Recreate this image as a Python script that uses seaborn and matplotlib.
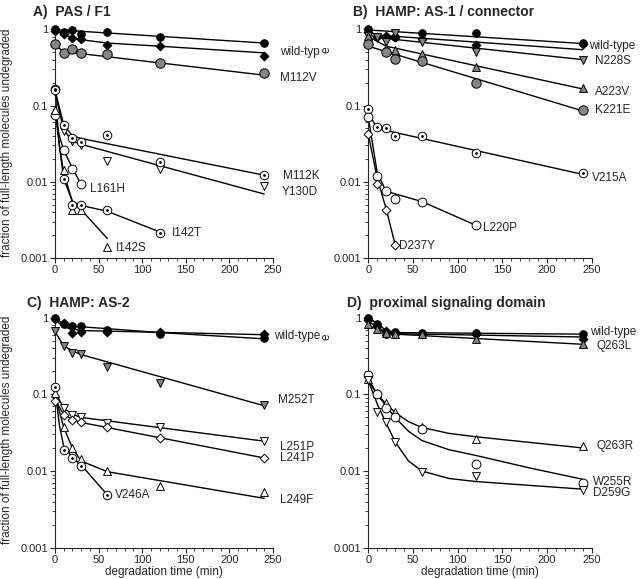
import numpy as np
import pandas as pd
import matplotlib
matplotlib.use("Agg")
import matplotlib.pyplot as plt
from matplotlib.ticker import FixedLocator, MultipleLocator, LogLocator, NullFormatter
import seaborn as sns

nan = np.nan

# sampling times (min)
TIME = [0, 10, 20, 30, 60, 120, 240]

# ---- A) PAS / F1 : measured fractions
A_WT = [1.0, 0.93, 0.98, 0.87, 0.92, 0.80, 0.66]
A_WT2 = [0.96, 0.87, 0.76, 0.74, 0.62, 0.60, 0.45]
A_M112V = [0.64, 0.49, 0.55, 0.49, 0.47, 0.36, 0.265]
A_M112K = [0.164, 0.056, 0.037, 0.033, 0.041, 0.018, 0.0123]
A_Y130D = [0.15, 0.046, 0.034, 0.030, 0.019, 0.0148, 0.0087]
A_L161H = [0.075, 0.026, 0.0147, 0.0093, nan, nan, nan]
A_I142T = [0.16, 0.011, 0.0049, 0.0049, 0.0042, 0.0021, nan]
A_I142S = [0.088, 0.0144, 0.0042, 0.0042, 0.0014, nan, nan]

# ---- B) HAMP: AS-1 / connector
B_WT = [1.0, nan, 0.79, 0.80, 0.89, 0.89, 0.66]
B_WT2 = [0.93, 0.80, 0.82, 0.79, 0.74, 0.62, 0.64]
B_N228S = [0.82, 0.80, 0.69, 0.89, 0.68, 0.50, 0.40]
B_A223V = [0.82, nan, 0.56, 0.54, 0.47, 0.32, 0.168]
B_K221E = [0.64, nan, 0.51, 0.41, 0.38, 0.20, 0.088]
B_V215A = [0.089, 0.053, 0.050, 0.040, 0.040, 0.024, 0.013]
B_L220P = [0.070, 0.012, 0.0075, 0.0060, 0.0055, 0.0027, nan]
B_D237Y = [0.042, 0.0094, 0.0042, 0.0015, nan, nan, nan]

# ---- C) HAMP: AS-2
C_WT = [1.0, 0.82, 0.78, 0.78, 0.70, 0.61, 0.54]
C_WT2 = [0.95, 0.85, 0.64, 0.66, 0.66, 0.66, 0.61]
C_M252T = [0.68, 0.43, 0.35, 0.34, 0.225, 0.14, 0.072]
C_L251P = [0.113, 0.066, 0.054, 0.050, 0.042, 0.037, 0.025]
C_L241P = [0.082, 0.054, 0.046, 0.043, 0.037, 0.027, 0.015]
C_L249F = [0.103, 0.038, 0.020, 0.0143, 0.0099, 0.0064, 0.0053]
C_V246A = [0.126, 0.019, 0.015, 0.0117, 0.0049, nan, nan]

# ---- D) proximal signaling domain
D_WT = [1.0, 0.84, 0.62, 0.66, 0.64, 0.64, 0.61]
D_WT2 = [0.92, 0.78, 0.68, 0.62, 0.62, 0.61, 0.52]
D_Q263L = [0.82, 0.71, 0.64, 0.61, 0.61, 0.53, 0.45]
D_Q263R = [0.158, 0.103, 0.077, 0.058, 0.037, 0.026, 0.021]
D_W255R = [0.18, 0.10, 0.066, 0.050, 0.035, 0.0125, 0.007]
D_D259G = [0.154, 0.058, 0.043, 0.024, 0.0098, 0.0086, 0.0057]

# ---- fitted curves (time list, value list)
A_WT_FIT = ([0, 240], [0.99, 0.66])
A_WT2_FIT = ([0, 10, 20, 30, 60, 120, 240], [0.96, 0.85, 0.78, 0.73, 0.66, 0.60, 0.49])
A_M112V_FIT = ([0, 10, 240], [0.62, 0.51, 0.25])
A_M112K_FIT = ([0, 10, 20, 30, 240], [0.16, 0.056, 0.040, 0.037, 0.0122])
A_Y130D_FIT = ([0, 10, 20, 30, 240], [0.15, 0.048, 0.034, 0.031, 0.0069])
A_L161H_FIT = ([0, 5, 10, 20, 30], [0.075, 0.040, 0.026, 0.015, 0.0093])
A_I142T_FIT = ([0, 5, 10, 20, 30, 60, 120], [0.16, 0.030, 0.011, 0.0055, 0.0049, 0.0041, 0.0022])
A_I142S_FIT = ([0, 5, 10, 20, 30, 60], [0.088, 0.030, 0.013, 0.0055, 0.0043, 0.0018])

B_WT_FIT = ([0, 240], [0.98, 0.65])
B_WT2_FIT = ([0, 10, 240], [0.93, 0.84, 0.54])
B_N228S_FIT = ([0, 10, 240], [0.85, 0.78, 0.40])
B_A223V_FIT = ([0, 20, 240], [0.80, 0.60, 0.165])
B_K221E_FIT = ([0, 240], [0.60, 0.085])
B_V215A_FIT = ([0, 10, 240], [0.08, 0.05, 0.0125])
B_L220P_FIT = ([0, 10, 20, 60, 120], [0.07, 0.013, 0.0075, 0.0055, 0.0027])
B_D237Y_FIT = ([0, 10, 20, 30], [0.042, 0.011, 0.0044, 0.0015])

C_WT_FIT = ([0, 10, 20, 30, 60, 120, 240], [1.0, 0.82, 0.78, 0.76, 0.72, 0.64, 0.53])
C_WT2_FIT = ([0, 10, 30, 240], [0.95, 0.75, 0.68, 0.60])
C_M252T_FIT = ([0, 10, 20, 30, 240], [0.66, 0.43, 0.37, 0.33, 0.071])
C_L251P_FIT = ([0, 10, 20, 30, 240], [0.11, 0.066, 0.055, 0.050, 0.0245])
C_L241P_FIT = ([0, 10, 20, 30, 240], [0.085, 0.055, 0.047, 0.043, 0.0148])
C_L249F_FIT = ([0, 10, 20, 30, 60, 240], [0.10, 0.037, 0.020, 0.0135, 0.0098, 0.0044])
C_V246A_FIT = ([0, 5, 10, 20, 30, 60], [0.12, 0.040, 0.021, 0.015, 0.012, 0.0049])

D_WT_FIT = ([0, 10, 20, 30, 240], [1.0, 0.84, 0.68, 0.64, 0.61])
D_WT2_FIT = ([0, 10, 20, 30, 240], [0.90, 0.75, 0.65, 0.62, 0.56])
D_Q263L_FIT = ([0, 10, 20, 30, 240], [0.80, 0.70, 0.64, 0.61, 0.45])
D_Q263R_FIT = ([0, 10, 20, 30, 45, 60, 90, 120, 240],
               [0.15, 0.10, 0.075, 0.058, 0.044, 0.037, 0.031, 0.028, 0.020])
D_W255R_FIT = ([0, 10, 20, 30, 45, 60, 90, 120, 180, 240],
               [0.16, 0.10, 0.07, 0.05, 0.033, 0.025, 0.019, 0.016, 0.011, 0.0078])
D_D259G_FIT = ([0, 10, 20, 30, 45, 60, 90, 120, 180, 240],
               [0.15, 0.075, 0.042, 0.024, 0.0135, 0.0100, 0.0080, 0.0073, 0.0065, 0.0058])

GRAY = "#858585"
STYLES = {
    "wt": dict(marker="o", s=30, fc="black"),
    "wt2": dict(marker="D", s=20, fc="black"),
    "g_circle": dict(marker="o", s=46, fc=GRAY),
    "g_down": dict(marker="v", s=32, fc=GRAY),
    "g_up": dict(marker="^", s=32, fc=GRAY),
    "dot_circle": dict(marker="o", s=38, fc="white", dot=True),
    "o_down": dict(marker="v", s=32, fc="white"),
    "o_up": dict(marker="^", s=32, fc="white"),
    "o_circle": dict(marker="o", s=40, fc="white"),
    "o_diamond": dict(marker="D", s=20, fc="white"),
}

panels = [
    ("A)  PAS / F1", (33, 12), [0.0859, 0.5544, 0.3406, 0.3978], [
        (A_WT, "wt", A_WT_FIT), (A_WT2, "wt2", A_WT2_FIT), (A_M112V, "g_circle", A_M112V_FIT),
        (A_Y130D, "o_down", A_Y130D_FIT), (A_M112K, "dot_circle", A_M112K_FIT),
        (A_L161H, "o_circle", A_L161H_FIT), (A_I142S, "o_up", A_I142S_FIT),
        (A_I142T, "dot_circle", A_I142T_FIT)],
     # the panel edge cuts the last letter of this label in the original
     [("wild-typ", 258, 0.50), ("M112V", 258, 0.23), ("M112K", 261, 0.012), ("Y130D", 260, 0.0074),
      ("L161H", 40, 0.0081), ("I142T", 134, 0.0021), ("I142S", 70, 0.00136)]),
    ("B)  HAMP: AS-1 / connector", (353, 12), [0.5755, 0.5544, 0.349, 0.3978], [
        (B_WT, "wt", B_WT_FIT), (B_WT2, "wt2", B_WT2_FIT), (B_N228S, "g_down", B_N228S_FIT),
        (B_A223V, "g_up", B_A223V_FIT), (B_K221E, "g_circle", B_K221E_FIT),
        (B_V215A, "dot_circle", B_V215A_FIT), (B_L220P, "o_circle", B_L220P_FIT),
        (B_D237Y, "o_diamond", B_D237Y_FIT)],
     [("wild-type", 247, 0.60), ("N228S", 254, 0.385), ("A223V", 254, 0.15), ("K221E", 254, 0.088),
      ("V215A", 250, 0.0113), ("L220P", 128, 0.0025), ("D237Y", 34, 0.00144)]),
    ("C)  HAMP: AS-2", (27, 303), [0.0859, 0.0541, 0.3406, 0.40], [
        (C_WT, "wt", C_WT_FIT), (C_WT2, "wt2", C_WT2_FIT), (C_M252T, "g_down", C_M252T_FIT),
        (C_L251P, "o_down", C_L251P_FIT), (C_L241P, "o_diamond", C_L241P_FIT),
        (C_L249F, "o_up", C_L249F_FIT), (C_V246A, "dot_circle", C_V246A_FIT)],
     [("wild-type", 251, 0.58), ("M252T", 256, 0.085), ("L251P", 258, 0.0206), ("L241P", 258, 0.0148),
      ("L249F", 258, 0.0042), ("V246A", 69, 0.0048)]),
    ("D)  proximal signaling domain", (347, 303), [0.5755, 0.0541, 0.349, 0.40], [
        (D_WT2, "wt2", D_WT2_FIT), (D_WT, "wt", D_WT_FIT), (D_Q263L, "g_up", D_Q263L_FIT),
        (D_Q263R, "o_up", D_Q263R_FIT), (D_W255R, "o_circle", D_W255R_FIT),
        (D_D259G, "o_down", D_D259G_FIT)],
     [("wild-type", 248, 0.65), ("Q263L", 255, 0.43), ("Q263R", 255, 0.021), ("W255R", 251, 0.0071),
      ("D259G", 251, 0.0051)]),
]

sns.set_style("ticks")
plt.rcParams["font.family"] = ["Liberation Sans", "DejaVu Sans"]

fig = plt.figure(figsize=(6.4, 5.79), dpi=100)
W, H = 640, 579

for idx, (title, tpos, rect, series, labels) in enumerate(panels):
    ax = fig.add_axes(rect)
    ax.set_yscale("log")
    for vals, style, (ft, fv) in series:
        st = STYLES[style]
        sns.lineplot(x=ft, y=fv, ax=ax, color="black", linewidth=1.0, sort=False,
                     estimator=None, zorder=2)
        df = pd.DataFrame({"t": TIME, "v": vals}).dropna()
        sns.scatterplot(data=df, x="t", y="v", ax=ax, marker=st["marker"], s=st["s"],
                        color=st["fc"], edgecolor="black", linewidth=0.7, zorder=3, clip_on=False)
        if st.get("dot"):
            sns.scatterplot(data=df, x="t", y="v", ax=ax, marker="o", s=4, color="black",
                            edgecolor="black", linewidth=0, zorder=4, clip_on=False)
    ax.set_xlim(0, 250)
    ax.set_ylim(0.001, 1.05)
    ax.yaxis.set_major_locator(FixedLocator([0.001, 0.01, 0.1, 1]))
    ax.set_yticklabels(["0.001", "0.01", "0.1", "1"])
    ax.yaxis.set_minor_locator(LogLocator(base=10, subs=np.arange(2, 10)))
    ax.yaxis.set_minor_formatter(NullFormatter())
    ax.xaxis.set_major_locator(MultipleLocator(50))
    ax.xaxis.set_minor_locator(MultipleLocator(10))
    ax.tick_params(axis="both", which="major", labelsize=8, length=3.5, width=0.8, pad=1.5)
    ax.tick_params(axis="both", which="minor", length=2, width=0.6)
    for sp in ("left", "bottom"):
        ax.spines[sp].set_linewidth(0.8)
    sns.despine(ax=ax)
    ax.set_xlabel("")
    ax.set_ylabel("")
    if idx >= 2:
        ax.set_xlabel("degradation time (min)", fontsize=8.5, labelpad=1)

    for name, lt, lv in labels:
        ax.text(lt, lv, name, ha="left", va="center", fontsize=8.5, clip_on=False)

    fig.text(tpos[0] / W, 1 - tpos[1] / H, title, fontsize=10, fontweight="bold",
             ha="left", va="center")

# y labels
fig.text(7 / W, 1 - 143 / H, "fraction of full-length molecules undegraded", rotation=90,
         ha="center", va="center", fontsize=8.5)
fig.text(7 / W, 1 - 430 / H, "fraction of full-length molecules undegraded", rotation=90,
         ha="center", va="center", fontsize=8.5)
# tail of the right-hand panels' y label, visible in the original
fig.text(326 / W, 1 - 50 / H, "e", rotation=90, ha="center", va="center", fontsize=8.5)
fig.text(326 / W, 1 - 337 / H, "e", rotation=90, ha="center", va="center", fontsize=8.5)

fig.savefig("out.png", dpi=100)
